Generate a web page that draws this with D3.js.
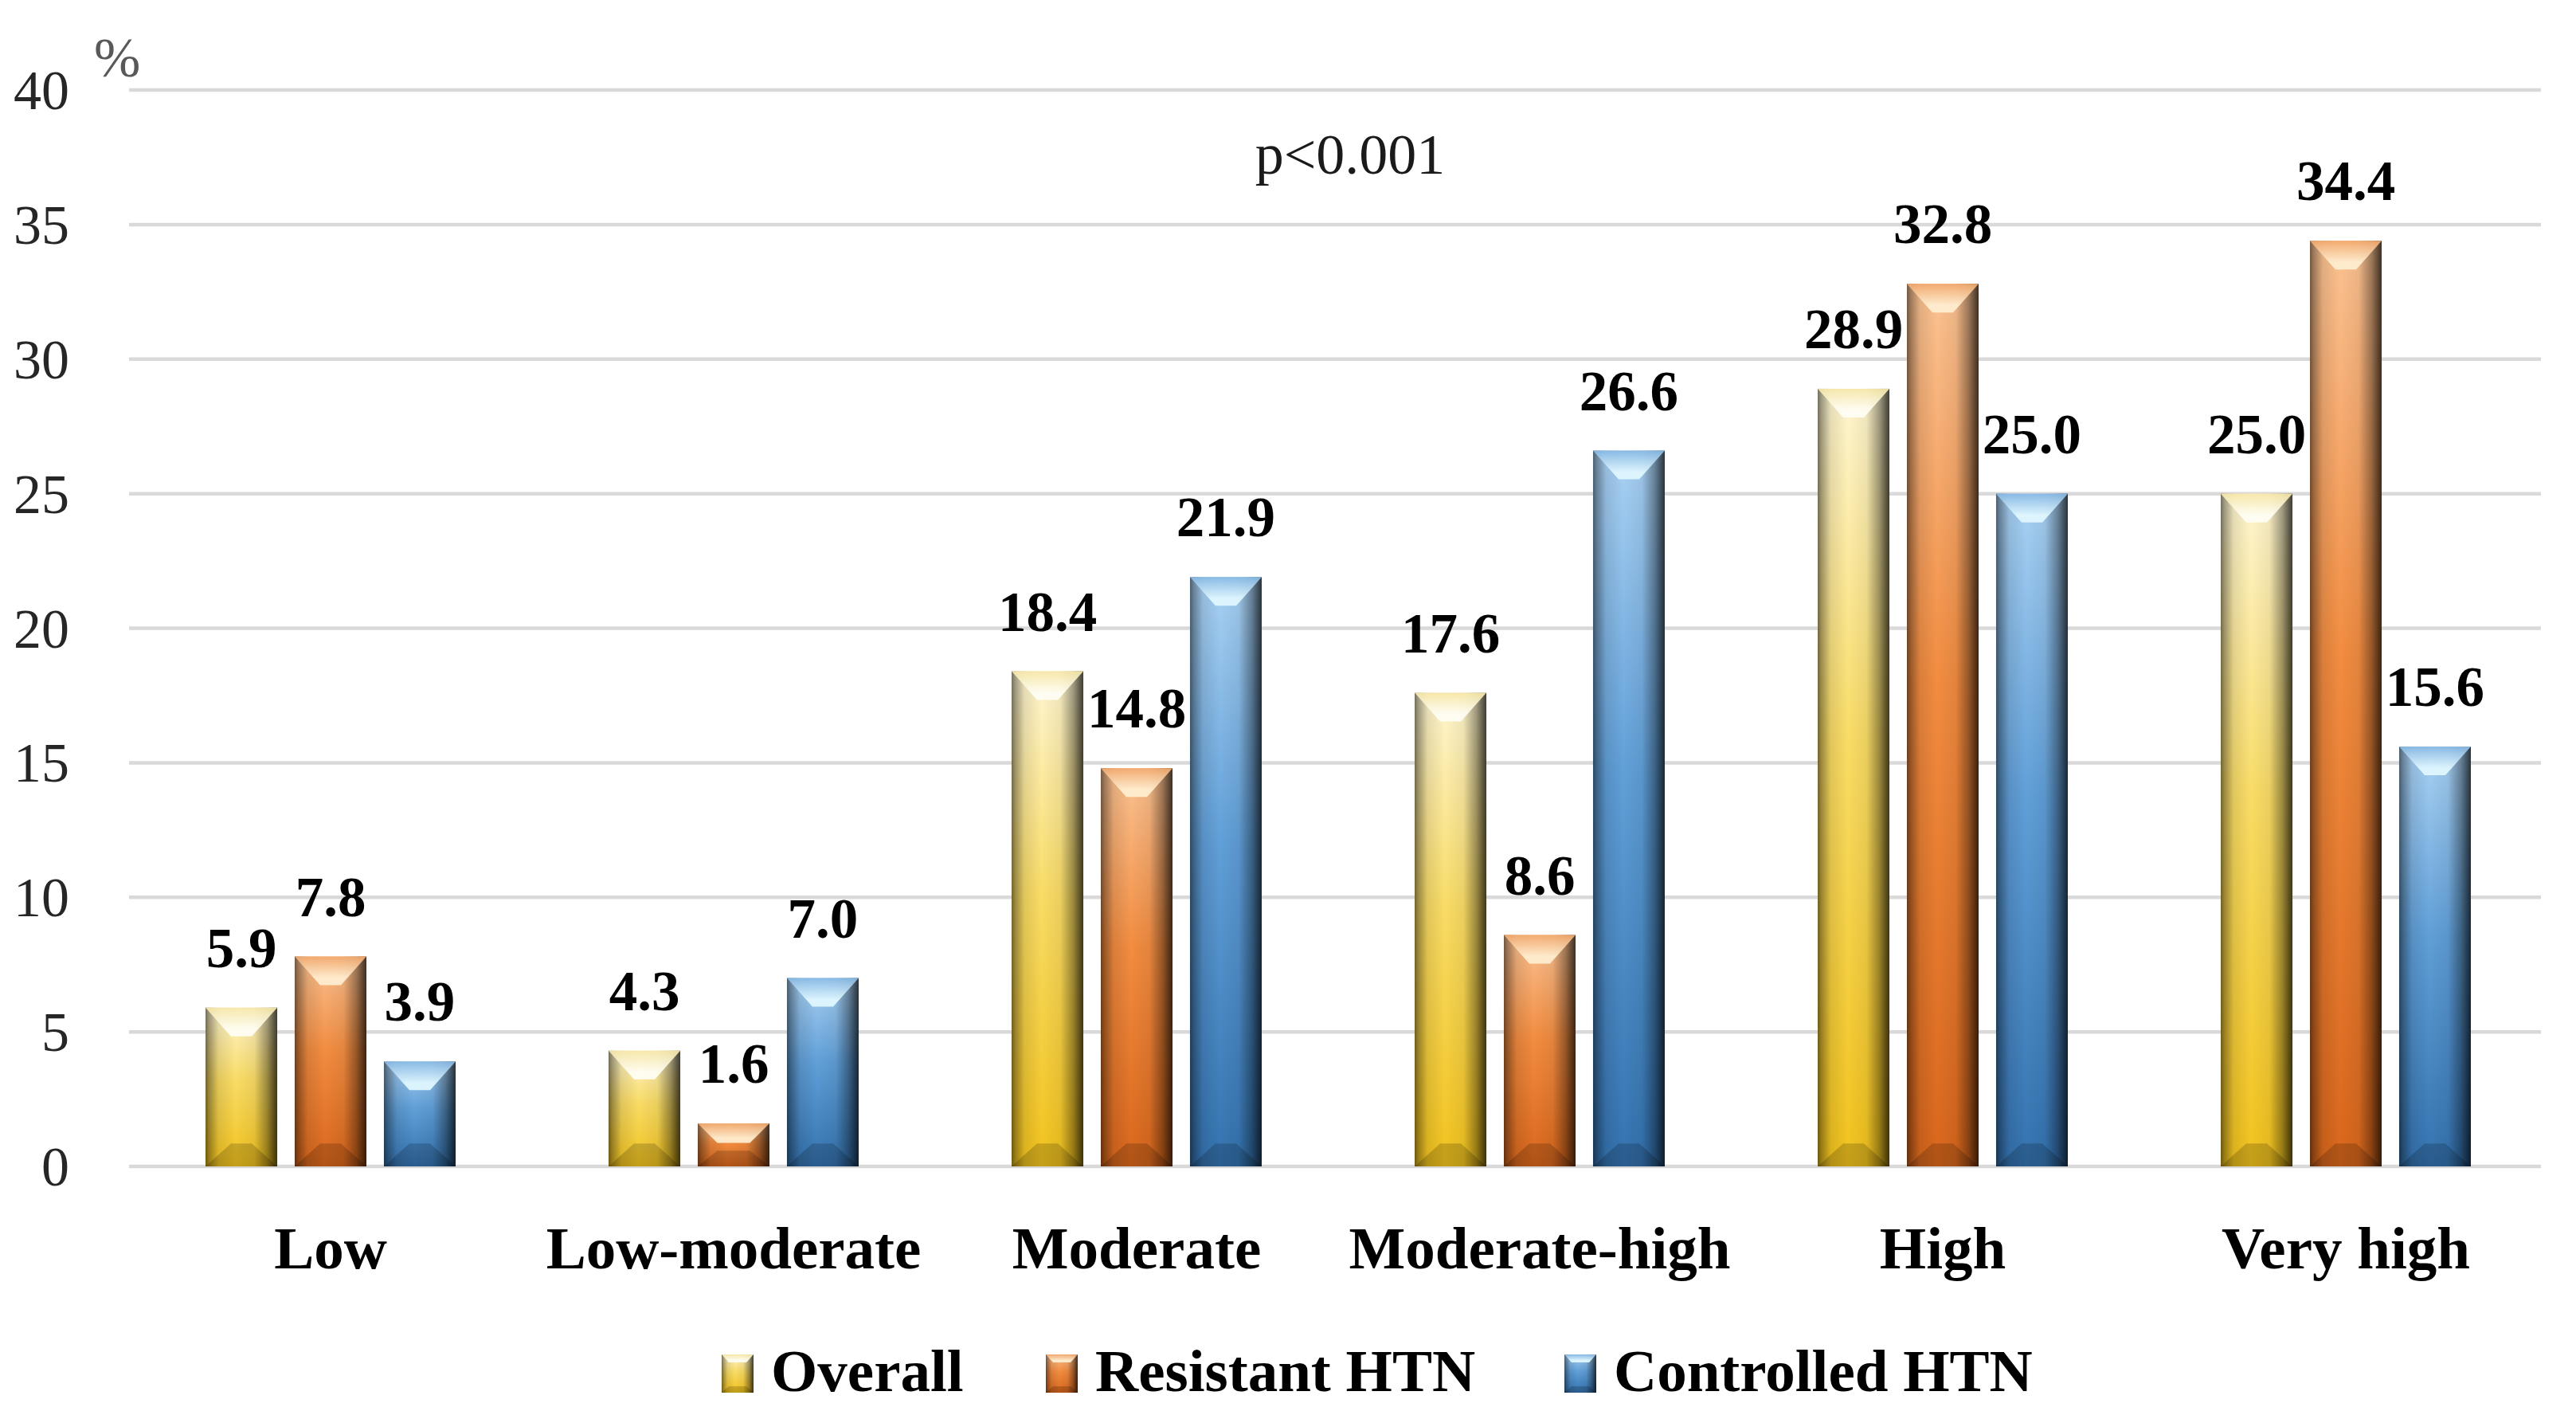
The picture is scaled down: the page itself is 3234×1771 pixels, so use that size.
<!DOCTYPE html>
<html><head><meta charset="utf-8">
<script src="https://cdn.jsdelivr.net/npm/d3@7"></script>
<style>html,body{margin:0;padding:0;background:#fff;} svg{display:block;}</style>
</head><body>
<script>
const categories = ["Low","Low-moderate","Moderate","Moderate-high","High","Very high"];
const seriesNames = ["Overall","Resistant HTN","Controlled HTN"];
const overall = [5.9,4.3,18.4,17.6,28.9,25.0];
const resistant = [7.8,1.6,14.8,8.6,32.8,34.4];
const controlled = [3.9,7.0,21.9,26.6,25.0,15.6];
const yTicks = [0,5,10,15,20,25,30,35,40];
const annotation = "p<0.001";
const unitLabel = "%";

const seriesValues = [overall, resistant, controlled];
const W = 3234, H = 1771;
const FONT = "'Liberation Serif', 'Times New Roman', serif";

const svg = d3.select("body").append("svg").attr("width", W).attr("height", H);
const x0 = d3.scaleBand().domain(categories).range([162, 3198]).padding(0);
const x1 = d3.scaleBand().domain(seriesNames).range([0, 314]).paddingInner(0.196).paddingOuter(0);
const y = d3.scaleLinear().domain([0, 40]).range([1464, 113]);
const groupOffset = (x0.bandwidth() - 314) / 2;

const pal = [
  {top:"#FFF6D2", mid:"#F9DC66", bot:"#F2C31E", hi:"#FFFEF6", hi2:"#F6E7A8"},
  {top:"#FBC393", mid:"#F28C40", bot:"#D9671C", hi:"#FFEFD2", hi2:"#F2A86C"},
  {top:"#AAD2F4", mid:"#609FD8", bot:"#3473B0", hi:"#E2F8FF", hi2:"#86B8E4"}
];

const defs = svg.append("defs");
pal.forEach((p, i) => {
  const g = defs.append("linearGradient").attr("id", "base" + i).attr("x1", 0).attr("y1", 0).attr("x2", 0).attr("y2", 1);
  g.append("stop").attr("offset", 0).attr("stop-color", p.top);
  g.append("stop").attr("offset", 0.45).attr("stop-color", p.mid);
  g.append("stop").attr("offset", 1).attr("stop-color", p.bot);
  const t = defs.append("linearGradient").attr("id", "topf" + i).attr("x1", 0).attr("y1", 0).attr("x2", 0).attr("y2", 1);
  t.append("stop").attr("offset", 0).attr("stop-color", p.hi2);
  t.append("stop").attr("offset", 0.75).attr("stop-color", p.hi);
  t.append("stop").attr("offset", 1).attr("stop-color", p.hi);
});
const sh = defs.append("linearGradient").attr("id", "shade").attr("x1", 0).attr("y1", 0).attr("x2", 1).attr("y2", 0);
[[0,0.55],[0.05,0.38],[0.18,0.1],[0.42,0],[0.68,0.06],[0.86,0.38],[0.95,0.62],[1,0.75]].forEach(s => {
  sh.append("stop").attr("offset", s[0]).attr("stop-color", "#000").attr("stop-opacity", s[1]);
});

// gridlines
svg.append("g").selectAll("line").data(yTicks).join("line")
  .attr("x1", 162).attr("x2", 3190)
  .attr("y1", d => y(d)).attr("y2", d => y(d))
  .attr("stroke", "#D9D9D9").attr("stroke-width", 4.5);

// y tick labels
svg.append("g").selectAll("text").data(yTicks).join("text")
  .attr("x", 87).attr("y", d => y(d) + 24)
  .attr("text-anchor", "end")
  .attr("font-family", FONT).attr("font-size", 70).attr("fill", "#262626")
  .text(d => d);

svg.append("text").attr("x", 118).attr("y", 96)
  .attr("font-family", FONT).attr("font-size", 70).attr("fill", "#595959")
  .text(unitLabel);

svg.append("text").attr("x", 1695).attr("y", 218).attr("text-anchor", "middle")
  .attr("font-family", FONT).attr("font-size", 72).attr("fill", "#1a1a1a")
  .text(annotation);

function drawBar(g, x, yTop, w, h, si, bev, inset) {
  const b = Math.min(bev, h / 2.2);
  const ins = Math.min(inset, b);
  g.append("rect").attr("x", x).attr("y", yTop).attr("width", w).attr("height", h).attr("fill", `url(#base${si})`);
  g.append("rect").attr("x", x).attr("y", yTop).attr("width", w).attr("height", h).attr("fill", "url(#shade)");
  g.append("polygon")
    .attr("points", [[x, yTop + h], [x + w, yTop + h], [x + w - ins, yTop + h - b * 0.8], [x + ins, yTop + h - b * 0.8]].map(p => p.join(",")).join(" "))
    .attr("fill", "#000").attr("fill-opacity", 0.18);
  g.append("polygon")
    .attr("points", [[x, yTop], [x + w, yTop], [x + w - ins, yTop + b], [x + ins, yTop + b]].map(p => p.join(",")).join(" "))
    .attr("fill", `url(#topf${si})`).attr("fill-opacity", 0.92);
}

// bars
const barsG = svg.append("g");
seriesValues.forEach((vals, si) => {
  vals.forEach((v, ci) => {
    const bx = x0(categories[ci]) + groupOffset + x1(seriesNames[si]);
    const bw = x1.bandwidth();
    const g = barsG.append("g");
    drawBar(g, bx, y(v), bw, y(0) - y(v), si, 36, 32);
  });
});

// data labels
const labG = svg.append("g");
seriesValues.forEach((vals, si) => {
  vals.forEach((v, ci) => {
    const cx = x0(categories[ci]) + groupOffset + x1(seriesNames[si]) + x1.bandwidth() / 2;
    labG.append("text").attr("x", cx).attr("y", y(v) - 51)
      .attr("text-anchor", "middle")
      .attr("font-family", FONT).attr("font-weight", "bold").attr("font-size", 71).attr("fill", "#000")
      .text(v.toFixed(1));
  });
});

// category labels
svg.append("g").selectAll("text").data(categories).join("text")
  .attr("x", d => x0(d) + x0.bandwidth() / 2).attr("y", 1592)
  .attr("text-anchor", "middle")
  .attr("font-family", FONT).attr("font-weight", "bold").attr("font-size", 75).attr("fill", "#000")
  .text(d => d);

// legend
const legendX = [906, 1313, 1964];
const legG = svg.append("g");
seriesNames.forEach((s, si) => {
  const g = legG.append("g");
  drawBar(g, legendX[si], 1700, 40, 48, si, 10, 9);
  g.append("text").attr("x", legendX[si] + 62).attr("y", 1746)
    .attr("font-family", FONT).attr("font-weight", "bold").attr("font-size", 75).attr("fill", "#000")
    .text(s);
});
</script>
</body></html>
